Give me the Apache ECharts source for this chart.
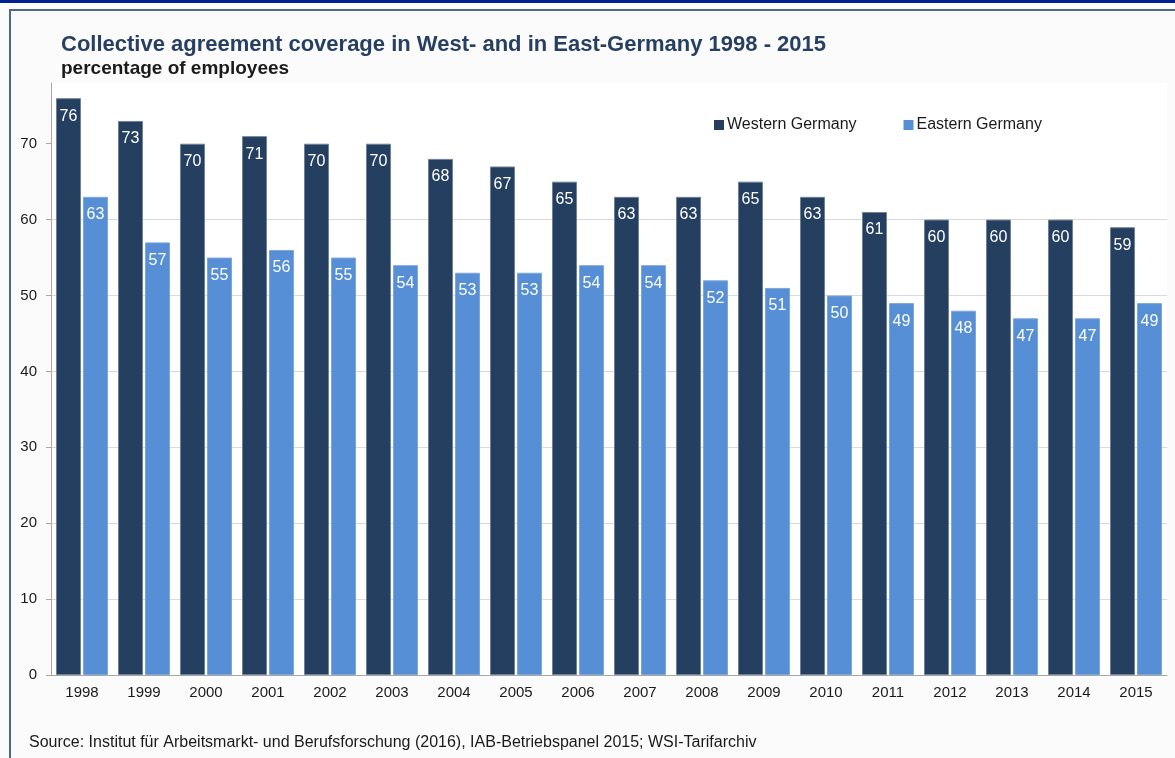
<!DOCTYPE html>
<html>
<head>
<meta charset="utf-8">
<script src="https://cdn.jsdelivr.net/npm/echarts@6/dist/echarts.min.js"></script>
<style>
  html, body { margin: 0; padding: 0; background: #fbfbfb; }
  #main { width: 1175px; height: 758px; }
</style>
</head>
<body>
<div id="main"></div>
<script>
const years = ['1998', '1999', '2000', '2001', '2002', '2003', '2004', '2005', '2006',
    '2007', '2008', '2009', '2010', '2011', '2012', '2013', '2014', '2015']
const west = [76, 73, 70, 71, 70, 70, 68, 67, 65, 63, 63, 65, 63, 61, 60, 60, 60, 59]
const east = [63, 57, 55, 56, 55, 54, 53, 53, 54, 54, 52, 51, 50, 49, 48, 47, 47, 49]
const yTicks = [0, 10, 20, 30, 40, 50, 60, 70]

const chartDom = document.getElementById('main')
const myChart = echarts.init(chartDom)

const font = 'Liberation Sans, Arial, sans-serif'

const barLabel = {
    show: true,
    position: 'insideTop',
    distance: 10,
    color: '#fff',
    fontSize: 16,
    fontFamily: font
}

const option = {
    backgroundColor: '#fbfbfb',
    animation: false,
    title: [
        {
            text: 'Collective agreement coverage in West- and in East-Germany 1998 - 2015',
            left: 61,
            top: 34,
            padding: 0,
            textStyle: { fontSize: 22, fontWeight: 'bold', color: '#263f62', fontFamily: font }
        },
        {
            text: 'percentage of employees',
            left: 61,
            top: 59,
            padding: 0,
            textStyle: { fontSize: 19, fontWeight: 'bold', color: '#1a1a1a', fontFamily: font }
        }
    ],
    legend: {
        left: 714,
        top: 117,
        padding: 0,
        itemWidth: 10,
        itemHeight: 10,
        itemGap: 47,
        icon: 'rect',
        itemStyle: { borderWidth: 0 },
        textStyle: { fontSize: 16, color: '#1a1a1a', fontFamily: font, padding: [0, 0, 0, -2] },
        data: ['Western Germany', 'Eastern Germany']
    },
    grid: {
        left: 51,
        right: 8,
        top: 83,
        bottom: 83,
        show: true,
        backgroundColor: '#ffffff',
        borderWidth: 0
    },
    xAxis: {
        type: 'category',
        data: years,
        axisLine: { lineStyle: { color: '#a6a6a6', width: 1 } },
        axisTick: { length: 5, lineStyle: { color: '#a6a6a6' } },
        axisLabel: { fontSize: 15, color: '#1a1a1a', margin: 10, fontFamily: font }
    },
    yAxis: {
        type: 'value',
        min: 0,
        max: 78,
        interval: 10,
        axisLine: { show: true, lineStyle: { color: '#a6a6a6', width: 1 } },
        axisTick: { show: true, length: 5, customValues: yTicks, lineStyle: { color: '#a6a6a6' } },
        axisLabel: { fontSize: 15, color: '#1a1a1a', margin: 14, customValues: yTicks, fontFamily: font },
        splitLine: { show: true, showMinLine: false, showMaxLine: false, lineStyle: { color: '#d9d9d9' } }
    },
    graphic: [
        { type: 'rect', shape: { x: 0, y: 0, width: 1175, height: 3 }, style: { fill: '#00218f' } },
        { type: 'rect', shape: { x: 9, y: 9, width: 1166, height: 2 }, style: { fill: '#4f6889' } },
        { type: 'rect', shape: { x: 9, y: 9, width: 2, height: 749 }, style: { fill: '#4f6889' } },
        {
            type: 'text',
            left: 29,
            top: 735,
            style: {
                text: 'Source: Institut für Arbeitsmarkt- und Berufsforschung (2016), IAB-Betriebspanel 2015; WSI-Tarifarchiv',
                fontSize: 16,
                fill: '#1a1a1a',
                fontFamily: font
            }
        }
    ],
    series: [
        {
            name: 'Western Germany',
            type: 'bar',
            data: west,
            barWidth: 25,
            barGap: '8%',
            itemStyle: { color: '#253f61', borderColor: '#6f8099', borderWidth: 1 },
            label: barLabel
        },
        {
            name: 'Eastern Germany',
            type: 'bar',
            data: east,
            barWidth: 25,
            itemStyle: { color: '#568fd6', borderColor: '#7fa6d8', borderWidth: 1 },
            label: barLabel
        }
    ]
}

myChart.setOption(option)
</script>
</body>
</html>
